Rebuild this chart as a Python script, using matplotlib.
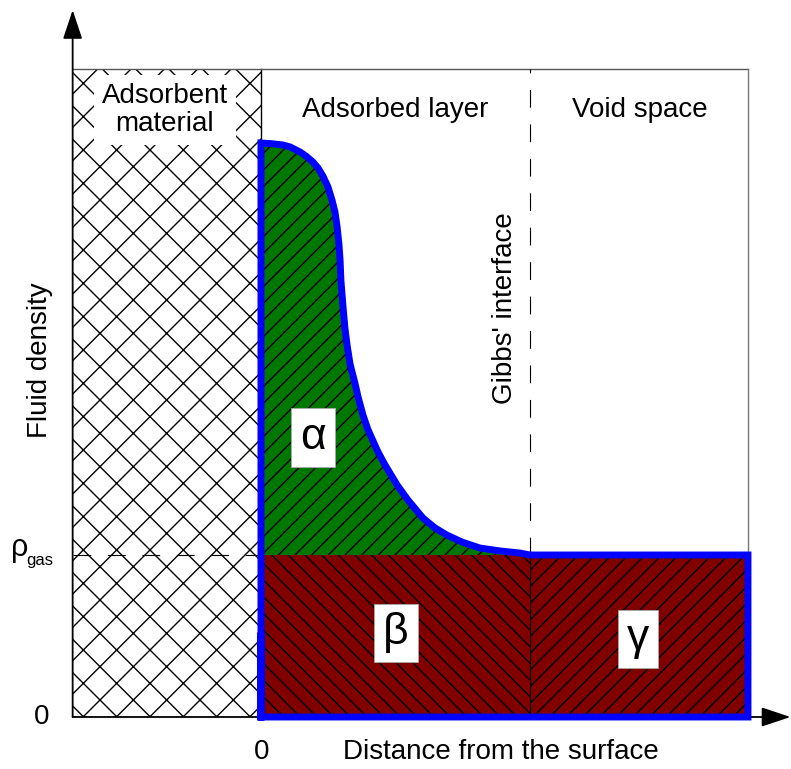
import numpy as np
import matplotlib
matplotlib.use("Agg")
import matplotlib.pyplot as plt

plt.rcParams['font.family'] = ['Liberation Sans', 'DejaVu Sans']
plt.rcParams['hatch.linewidth'] = 1.0

# distance from the surface (surface = 0, Gibbs interface = 1)
distance = [0.000, 0.033, 0.082, 0.108, 0.145, 0.167, 0.193, 0.212, 0.230, 0.249,
            0.264, 0.275, 0.283, 0.290, 0.294, 0.297, 0.305, 0.312, 0.320, 0.331,
            0.349, 0.361, 0.379, 0.398, 0.435, 0.461, 0.506, 0.546, 0.602, 0.647,
            0.691, 0.747, 0.814, 0.888, 0.963, 1.000]
# fluid density, in units of rho_gas
density = [3.543, 3.540, 3.531, 3.519, 3.488, 3.463, 3.426, 3.389, 3.340, 3.272,
           3.191, 3.117, 3.025, 2.914, 2.821, 2.698, 2.531, 2.401, 2.296, 2.179,
           2.062, 1.975, 1.864, 1.772, 1.636, 1.556, 1.432, 1.340, 1.228, 1.167,
           1.123, 1.080, 1.043, 1.025, 1.012, 1.000]

x_wall = -0.70     # outer edge of the adsorbent drawing
x_surface = 0.0
x_gibbs = 1.0
x_end = 1.81
rho_gas = 1.0
y_top = 4.0

region_labels = ['Adsorbent\nmaterial', 'Adsorbed layer', 'Void space']
area_labels = ['α', 'β', 'γ']

fig = plt.figure(figsize=(7.91, 7.69), dpi=100)
ax = fig.add_axes([0, 0, 1, 1])
ax.set_xlim(-0.970, 1.970)
ax.set_ylim(-0.321, 4.426)
ax.axis('off')

# adsorbent material (cross hatch)
ax.fill_between([x_wall, x_surface], 0, y_top, facecolor='white', edgecolor='black',
                hatch='x', linewidth=0, zorder=1)
ax.plot([x_surface, x_surface], [0, y_top], color='black', lw=1, zorder=1.5)
ax.plot([x_wall, x_surface], [rho_gas, rho_gas], color='black', lw=0.8,
        linestyle=(0, (16, 15)), zorder=1.6)

# frame of the box
ax.plot([x_wall, x_end], [y_top, y_top], color='#555555', lw=1, zorder=1.5)
ax.plot([x_end, x_end], [rho_gas, y_top], color='#777777', lw=1, zorder=1.5)

# Gibbs interface
ax.plot([x_gibbs, x_gibbs], [rho_gas, y_top], color='black', lw=0.8,
        linestyle=(0, (16, 15)), zorder=1.5)

# areas alpha, beta, gamma
ax.fill_between(distance, density, rho_gas, facecolor='#007700', edgecolor='black',
                hatch='//', linewidth=0, zorder=2)
ax.fill_between([x_surface, x_gibbs], 0, rho_gas, facecolor='#800000', edgecolor='black',
                hatch='\\\\', linewidth=0, zorder=2)
ax.fill_between([x_gibbs, x_end], 0, rho_gas, facecolor='#800000', edgecolor='black',
                hatch='//', linewidth=0, zorder=2)
ax.plot([x_gibbs, x_gibbs], [0, rho_gas], color='black', lw=0.8, zorder=3)

# blue outline of the density profile
ox = [x_surface, x_surface] + distance + [x_end, x_end, x_surface, x_surface]
oy = [0, density[0]] + density + [rho_gas, 0, 0, 0.5]
ax.plot(ox, oy, color='#0000ff', lw=5, solid_joinstyle='miter', zorder=4)

# axes arrows
arrow = dict(arrowstyle='-|>,head_length=0.6,head_width=0.2', mutation_scale=30,
             color='black', lw=1.3, shrinkA=0, shrinkB=0)
ax.annotate('', xy=(x_wall, 4.364), xytext=(x_wall, 0), arrowprops=arrow, zorder=5)
ax.annotate('', xy=(1.968, 0), xytext=(x_wall, 0), arrowprops=arrow, zorder=3.5)

# region labels
ax.text(-0.357, 3.747, region_labels[0], ha='center', va='center', fontsize=20,
        linespacing=1.1, zorder=3,
        bbox=dict(boxstyle='square,pad=0.3', facecolor='white', edgecolor='none'))
ax.text(0.498, 3.747, region_labels[1], ha='center', va='center', fontsize=20)
ax.text(1.409, 3.747, region_labels[2], ha='center', va='center', fontsize=20)
ax.text(0.907, 2.525, "Gibbs' interface", rotation=90, ha='center', va='center', fontsize=20)

# area labels
label_pos = [(0.193, 1.723), (0.502, 0.519), (1.401, 0.482)]
for lab, (lx, ly) in zip(area_labels, label_pos):
    ax.text(lx, ly, lab, ha='center', va='center', fontsize=32, zorder=6,
            bbox=dict(boxstyle='square,pad=0.2', facecolor='white',
                      edgecolor='#aaaaaa', linewidth=0.6))

# axis labels and ticks
ax.text(-0.822, 2.204, 'Fluid density', rotation=90, ha='center', va='center', fontsize=20)
ax.text(0.892, -0.216, 'Distance from the surface', ha='center', va='center', fontsize=20)
ax.text(0.004, -0.216, '0', ha='center', va='center', fontsize=20)
ax.text(-0.814, 0.0, '0', ha='center', va='center', fontsize=20)
ax.text(-0.896, 1.043, 'ρ', ha='center', va='center', fontsize=22)
ax.text(-0.822, 0.969, 'gas', ha='center', va='center', fontsize=12)

fig.savefig('out.png', dpi=100)
